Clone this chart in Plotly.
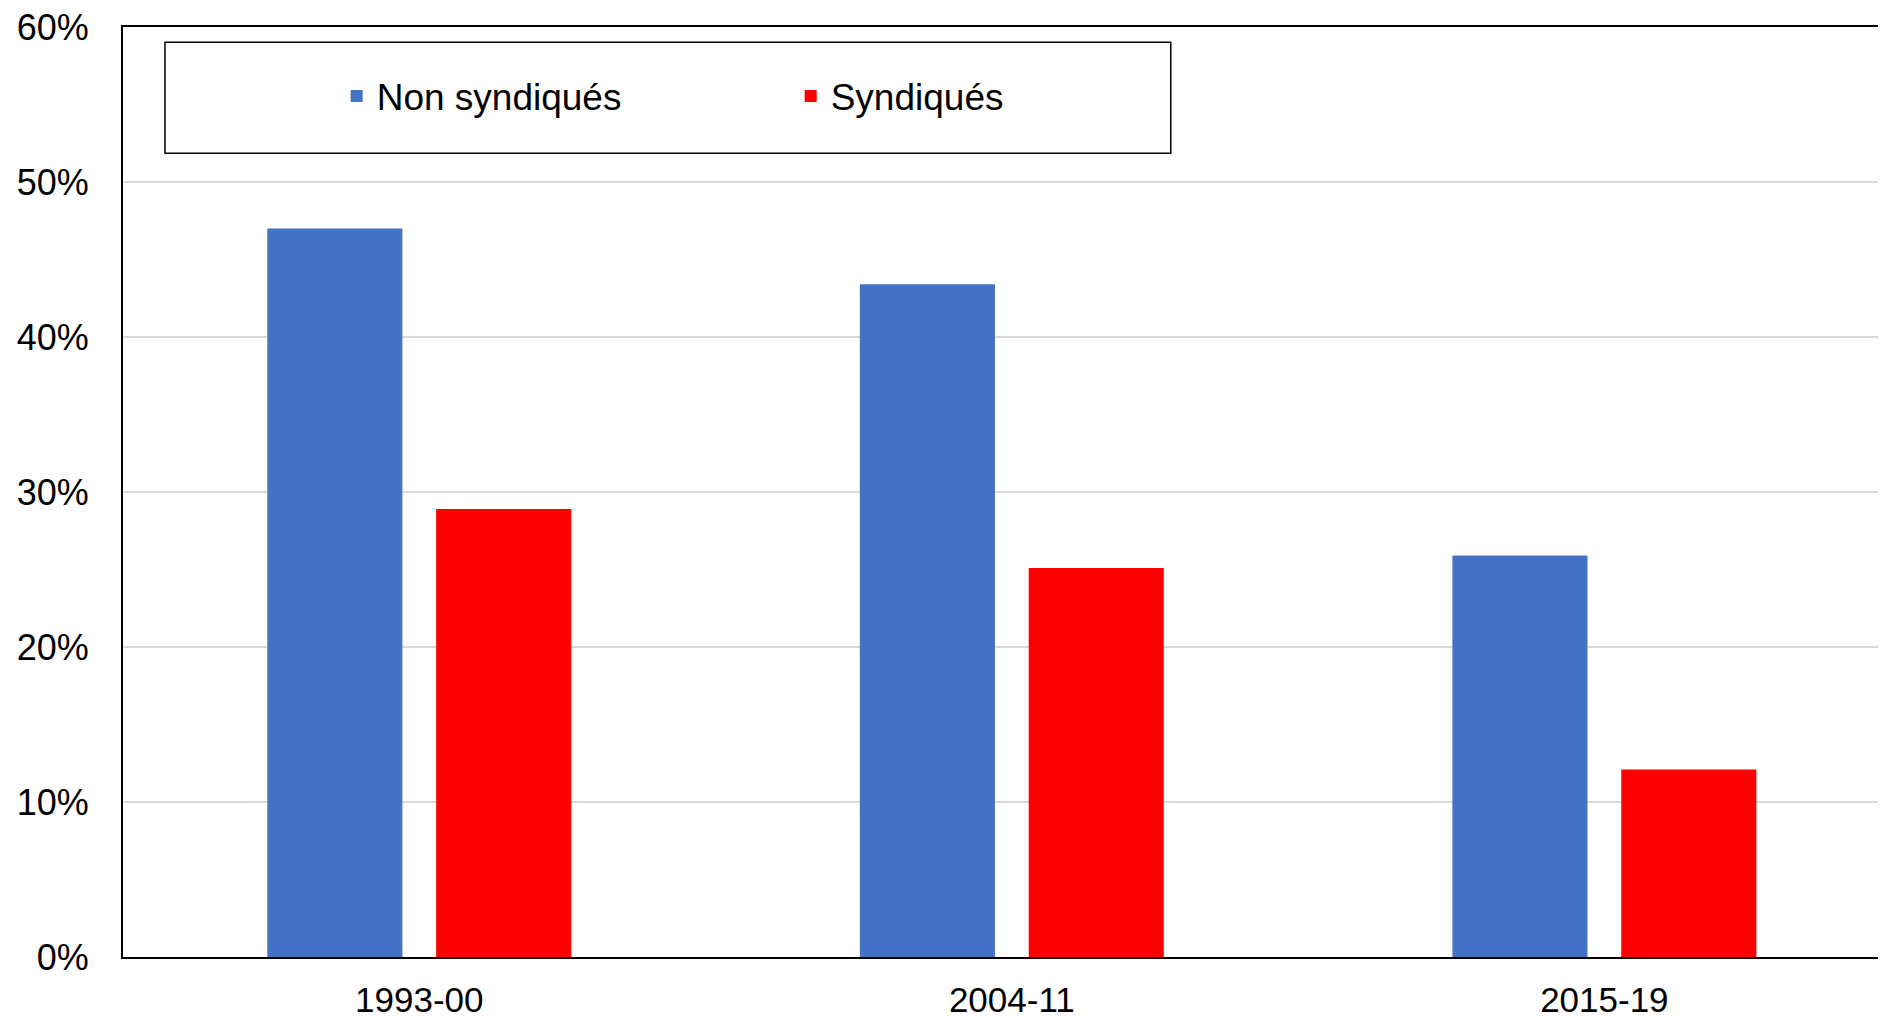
import plotly.graph_objects as go

categories = ["1993-00", "2004-11", "2015-19"]
non_syndiques = [47.0, 43.4, 25.9]
syndiques = [28.9, 25.1, 12.1]
series_names = ["Non syndiqués", "Syndiqués"]
y_ticks = [0, 10, 20, 30, 40, 50, 60]
y_tick_labels = [f"{v}%" for v in y_ticks]

FONT = "Liberation Sans, Arial, sans-serif"

# the page body has an 8px default margin: size the figure to fit the window
fig = go.Figure()
fig.add_trace(go.Bar(x=categories, y=non_syndiques, name=series_names[0],
                     marker=dict(color="#4472C4", line=dict(width=0))))
fig.add_trace(go.Bar(x=categories, y=syndiques, name=series_names[1],
                     marker=dict(color="#FF0000", line=dict(width=0))))

fig.update_layout(
    width=1878, height=1011,
    margin=dict(l=115, r=0, t=19, b=62, pad=0, autoexpand=False),
    paper_bgcolor="white", plot_bgcolor="white",
    barmode="group", bargap=0.43, bargroupgap=0.2,
    font=dict(family=FONT, size=35, color="black"),
    showlegend=True,
    legend=dict(orientation="h", x=0.1212, xanchor="left", y=0.9253, yanchor="middle",
                bgcolor="rgba(0,0,0,0)", borderwidth=0,
                entrywidth=409, entrywidthmode="pixels",
                font=dict(family=FONT, size=37, color="black")),
    shapes=[dict(type="rect", xref="paper", yref="paper",
                 x0=0.02382, x1=0.5943, y0=0.86419, y1=0.98355,
                 line=dict(color="black", width=1.5), fillcolor="rgba(0,0,0,0)",
                 layer="above")],
)

fig.update_xaxes(
    type="category", range=[-0.5, 2.4753], automargin=False,
    showline=True, linecolor="black", linewidth=2, mirror=True,
    showgrid=False, ticks="", ticklabelstandoff=11, zeroline=False,
    ticklabeloverflow="allow",
    tickfont=dict(family=FONT, size=35, color="black"),
)
fig.update_yaxes(
    range=[0, 60], tickvals=y_ticks, ticktext=y_tick_labels, automargin=False,
    showline=True, linecolor="black",
    linewidth=2, mirror=False, showgrid=True, gridcolor="#D9D9D9", gridwidth=1.5,
    zeroline=False, ticks="", ticklabelstandoff=25, ticklabeloverflow="allow",
    tickfont=dict(family=FONT, size=36, color="black"),
)

fig.write_html("out.html")
